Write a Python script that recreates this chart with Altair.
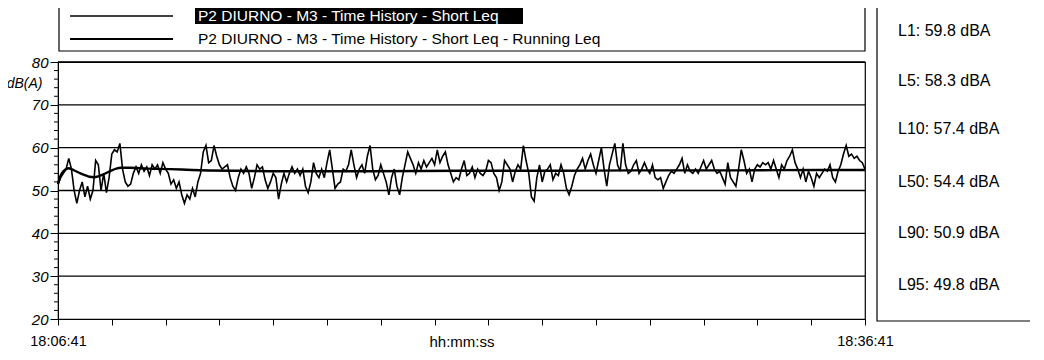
import altair as alt
import pandas as pd

# ---- data ----
sample_step_s = 6  # one reading every 6 s, 18:06:41 -> 18:36:41
short_leq = [
    51.5, 53, 54, 55, 57.5, 55, 50, 47, 50, 52,
    48.5, 51, 48, 50, 57, 56, 50, 54, 49.5, 53,
    58.5, 59.5, 59, 61, 55, 52, 51, 51.5, 54, 55.5,
    54, 56, 54.5, 55.5, 53.5, 56, 55, 56, 54, 56.5,
    55, 54, 51.5, 52.5, 50.5, 52, 49, 47, 49, 48,
    50.5, 48.5, 52, 54, 59, 60.5, 56.5, 57, 60.5, 58,
    56, 55, 55.5, 56, 53, 51, 50, 53, 55, 54,
    55.5, 54, 50.5, 53, 56, 55,
    55.5, 52.5, 50.5, 52, 54, 53, 48, 51.5, 54, 52,
    54, 55.5, 54, 55, 53.5, 55, 51, 49.5, 52, 56.5,
    54, 53, 55, 53, 56.5, 59.5, 55, 50.5, 51.5, 52,
    55, 54.5, 56, 59.5, 56, 53, 55, 56, 54, 58,
    60.5, 55, 52.5, 53.5, 56, 54, 52, 49, 53, 55,
    51, 49, 53, 56, 59, 57.5, 56, 54, 56.5, 55,
    57, 55.5, 56.5, 57.5, 56, 59.5, 56.5, 58, 59, 56,
    54, 52, 53, 52.5,
    55, 57, 53.5, 54, 55.5, 53, 55, 54, 53.5, 54.5,
    57, 56.5, 54, 53, 50, 52, 57, 56, 55, 52,
    54.5, 56, 55, 60.5, 57, 54, 48.5, 47.5, 53, 56,
    52, 54.5, 55, 56, 52.5, 54, 53.5, 56, 54, 50.5,
    49, 51, 53.5, 55, 56, 57.5, 55, 57, 58.5, 56,
    54, 57, 60, 55, 51, 56, 58.5, 61, 56, 54.5,
    61, 56, 54, 54.5, 56, 57, 54, 55, 56.5, 55,
    54, 56, 53, 52.5,
    53, 50.5, 52, 53.5, 54.5, 54, 55, 56, 57.5, 54,
    56, 54.5, 54, 55, 54, 55.5, 57, 55, 56, 57,
    55, 54, 54.5, 53, 51.5, 56.5, 53, 52, 51, 55,
    59.5, 57, 54, 55, 52, 55, 56, 55.5, 56.5, 56,
    56.5, 55, 57, 55, 53, 56, 55, 57, 58, 59.5,
    56.5, 55, 53, 55, 52, 54.5, 53, 51, 54, 53,
    54, 55, 54.5, 56, 53, 52, 54.5, 56, 58.5, 60.5,
    58, 58.5, 57.5, 58, 57, 56.5, 55,
]
running_t = [0, 6, 12, 18, 24, 30, 40, 50, 60, 70, 80, 90, 100, 110, 120, 130,
             140, 160, 200, 250, 300, 400, 500, 700, 900, 1100, 1300, 1500, 1700, 1800]
running_leq = [51.5, 53.5, 54.5, 55, 55.2, 55, 54.5, 54, 53.6, 53.2, 53.1, 53.3, 53.7,
               54.2, 54.7, 55.1, 55.3, 55.3, 55.1, 55.0, 54.8, 54.6, 54.5, 54.5, 54.6,
               54.6, 54.7, 54.7, 54.8, 54.8]
series_names = ["P2 DIURNO - M3 - Time History - Short Leq",
                "P2 DIURNO - M3 - Time History - Short Leq - Running Leq"]
stat_labels = ["L1: 59.8 dBA", "L5: 58.3 dBA", "L10: 57.4 dBA",
               "L50: 54.4 dBA", "L90: 50.9 dBA", "L95: 49.8 dBA"]
x_start_label = "18:06:41"
x_end_label = "18:36:41"
x_total_s = 1800
x_title = "hh:mm:ss"
y_title = "dB(A)"
y_major = [20, 30, 40, 50, 60, 70, 80]
y_grid = [30, 40, 50, 60, 70, 80]
y_minor = [v for v in range(20, 81, 2) if v % 10 != 0]

FONT = "Liberation Sans"
W, H = 807, 257

df_short = pd.DataFrame({"t": [i * sample_step_s for i in range(len(short_leq))],
                         "v": short_leq})
df_run = pd.DataFrame({"t": running_t, "v": running_leq})

x_enc = alt.X("t:Q",
              scale=alt.Scale(domain=[0, x_total_s], nice=False, zero=False),
              axis=alt.Axis(values=list(range(0, x_total_s + 1, 60)),
                            labelExpr=f"datum.value === 0 ? '{x_start_label}' : (datum.value === {x_total_s} ? '{x_end_label}' : '')",
                            labelFlush=False, labelOverlap=False,
                            labelFontSize=14.5, labelFont=FONT,
                            labelColor="black", labelPadding=9,
                            grid=False, tickSize=6, tickColor="black",
                            domainColor="black", title=x_title,
                            titleFont=FONT, titleFontSize=15, titleFontWeight="normal",
                            titleColor="black", titleBaseline="alphabetic",
                            titleY=27))
y_enc = alt.Y("v:Q",
              scale=alt.Scale(domain=[20, 80], nice=False, zero=False),
              axis=alt.Axis(values=y_major, labelOverlap=False,
                            labelFont=FONT, labelFontSize=15, labelFontStyle="italic",
                            labelColor="black", labelPadding=2,
                            tickSize=8, tickColor="black",
                            grid=False, domainColor="black",
                            title=y_title, titleAngle=0, titleX=-16, titleY=21,
                            titleAlign="right", titleBaseline="middle",
                            titleFont=FONT, titleFontSize=14, titleFontStyle="italic",
                            titleFontWeight="normal", titleColor="black"))

grid = alt.Chart(pd.DataFrame({"g": y_grid})).mark_rule(color="black", strokeWidth=1.3).encode(
    y="g:Q", x=alt.value(0), x2=alt.value(W))
minor = alt.Chart(pd.DataFrame({"m": y_minor})).mark_rule(color="black", strokeWidth=1).encode(
    y="m:Q", x=alt.value(-4), x2=alt.value(0))

short_line = alt.Chart(df_short).mark_line(color="black", strokeWidth=1.6).encode(x=x_enc, y=y_enc)
run_line = alt.Chart(df_run).mark_line(color="black", strokeWidth=2.4, interpolate="monotone").encode(x="t:Q", y="v:Q")

one = pd.DataFrame({"k": [0]})
layers = [short_line, grid, minor, run_line]

# legend box (above the plot)
layers.append(alt.Chart(one).mark_rect(fillOpacity=0, stroke="black", strokeWidth=1.2).encode(
    x=alt.value(1), x2=alt.value(W), y=alt.value(-56), y2=alt.value(-11)))
layers.append(alt.Chart(one).mark_rect(color="black").encode(
    x=alt.value(137), x2=alt.value(465), y=alt.value(-56), y2=alt.value(-38)))
for row, (ly, lw, tcol) in enumerate([(-46, 1.3, "white"), (-23, 2.2, "black")]):
    layers.append(alt.Chart(one).mark_rule(color="black", strokeWidth=lw).encode(
        x=alt.value(12), x2=alt.value(115), y=alt.value(ly)))
    layers.append(alt.Chart(pd.DataFrame({"name": [series_names[row]]})).mark_text(
        align="left", baseline="middle", font=FONT, fontSize=15.5, color=tcol).encode(
        x=alt.value(140), y=alt.value(ly), text="name:N"))

# statistics panel on the right
layers.append(alt.Chart(one).mark_rect(fillOpacity=0, stroke="black", strokeWidth=1.2).encode(
    x=alt.value(819), x2=alt.value(1000), y=alt.value(-60), y2=alt.value(259)))
stat_y = [-31, 19, 67, 120, 171, 223]
for lab, yy in zip(stat_labels, stat_y):
    layers.append(alt.Chart(pd.DataFrame({"s": [lab]})).mark_text(
        align="left", baseline="middle", font=FONT, fontSize=16, color="black").encode(
        x=alt.value(840), y=alt.value(yy), text="s:N"))

chart = alt.layer(*layers).properties(
    width=W, height=H,
    autosize=alt.AutoSizeParams(type="none"),
    padding={"left": 50, "top": 54, "right": 165, "bottom": 32},
    background="white",
).configure_view(stroke="black", strokeWidth=1.2)

chart.save("out.html", embed_options={"renderer": "svg", "actions": False})
